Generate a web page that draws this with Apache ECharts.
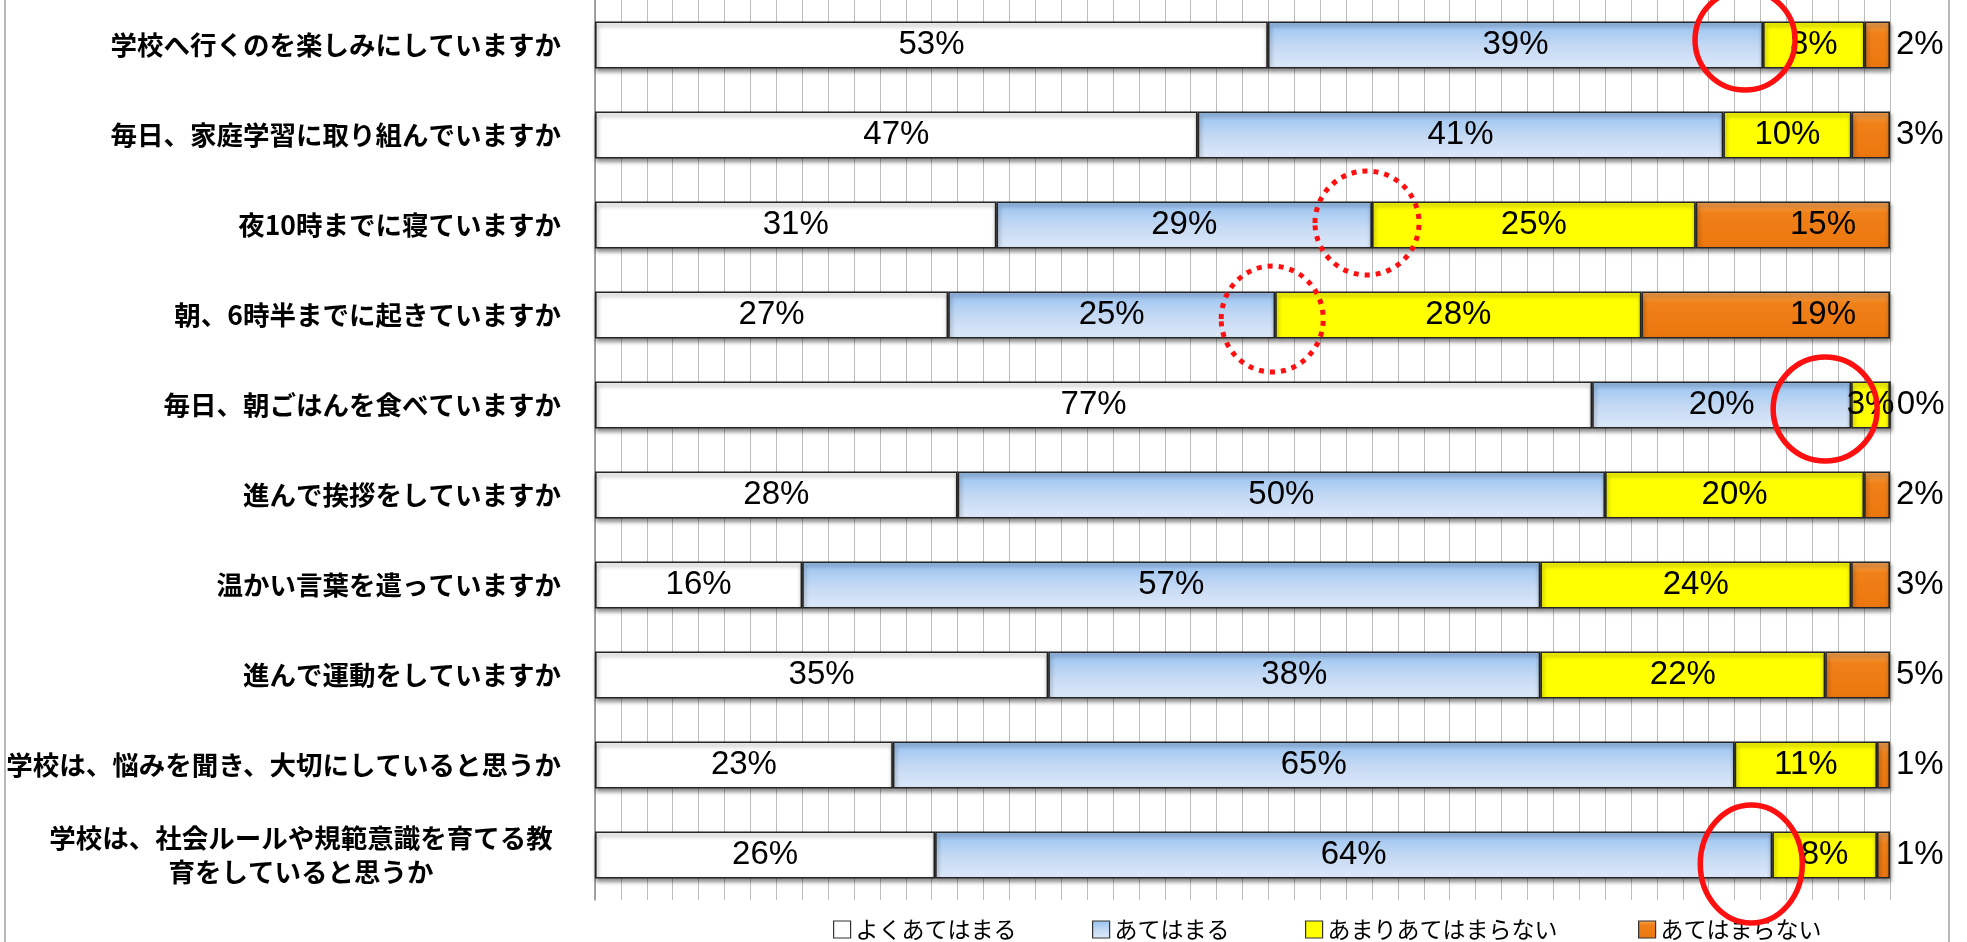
<!DOCTYPE html>
<html>
<head>
<meta charset="utf-8">
<script src="https://cdn.jsdelivr.net/npm/echarts@6/dist/echarts.min.js"></script>
<style>
html,body{margin:0;padding:0;background:#fff;}
#chart{width:1967px;height:942px;}
</style>
</head>
<body>
<div id="chart"></div>
<script>
const categories = [
  '学校へ行くのを楽しみにしていますか',
  '毎日、家庭学習に取り組んでいますか',
  '夜10時までに寝ていますか',
  '朝、6時半までに起きていますか',
  '毎日、朝ごはんを食べていますか',
  '進んで挨拶をしていますか',
  '温かい言葉を遣っていますか',
  '進んで運動をしていますか',
  '学校は、悩みを聞き、大切にしていると思うか',
  '学校は、社会ルールや規範意識を育てる教\n育をしていると思うか'
];
const seriesNames = ['よくあてはまる', 'あてはまる', 'あまりあてはまらない', 'あてはまらない'];
const veryTrue     = [53, 47, 31, 27, 77, 28, 16, 35, 23, 26];
const somewhatTrue = [39, 41, 29, 25, 20, 50, 57, 38, 65, 64];
const notReally    = [8, 10, 25, 28, 3, 20, 24, 22, 11, 8];
const notAtAll     = [2, 3, 15, 19, 0, 2, 3, 5, 1, 1];
const axisTicks    = [0, 100, 2];

const raw = [veryTrue, somewhatTrue, notReally, notAtAll];
const totals = categories.map((c, i) => raw.reduce((s, a) => s + a[i], 0));
const norm = raw.map(a => a.map((v, i) => v / totals[i] * 100));

const lin = (stops) => new echarts.graphic.LinearGradient(0, 0, 0, 1, stops.map((c) => ({offset: c[0], color: c[1]})));
const colors = [
  '#ffffff',
  lin([[0, '#94bff0'], [0.18, '#a6caf2'], [0.55, '#c6daf4'], [1, '#dde9f9']]),
  '#ffff00',
  lin([[0, '#f7a85a'], [0.25, '#f08018'], [1, '#ec760e']])
];

const baseItem = {
  borderColor: '#262626',
  borderWidth: 1.6,
  shadowColor: 'rgba(0,0,0,0.45)',
  shadowBlur: 4,
  shadowOffsetY: 3,
  shadowOffsetX: 1
};
const labelFont = {fontFamily: 'Liberation Sans', fontSize: 33, color: '#000'};

const series = seriesNames.map((name, s) => ({
  name: name,
  type: 'bar',
  stack: 'total',
  barWidth: 47,
  itemStyle: Object.assign({color: colors[s]}, baseItem),
  label: Object.assign({show: true, position: 'inside',
    formatter: p => raw[p.seriesIndex][p.dataIndex] + '%'}, labelFont),
  data: norm[s].map((v, i) => {
    const d = {value: v};
    if (s === 3) {
      if (raw[3][i] <= 5) d.label = {position: 'right', distance: 6};
      else d.label = {position: 'insideRight', distance: 34};
    }
    return d;
  })
}));

const legendLefts = [828, 1087, 1300, 1633];
const legends = seriesNames.map((n, i) => ({
  data: [n], left: legendLefts[i], top: 913, itemWidth: 17, itemHeight: 17,
  icon: 'rect',
  itemStyle: {borderColor: '#333', borderWidth: 1.2},
  textStyle: {fontSize: 23, color: '#000', fontFamily: 'Noto Sans CJK JP'}
}));

const chart = echarts.init(document.getElementById('chart'), null, {renderer: 'canvas'});
chart.setOption({
  animation: false,
  backgroundColor: '#fff',
  grid: {left: 595, right: 77, top: -13, bottom: 42, containLabel: false},
  xAxis: {
    type: 'value', min: axisTicks[0], max: axisTicks[1], interval: axisTicks[2],
    axisLabel: {show: false}, axisTick: {show: false}, axisLine: {show: false},
    splitLine: {show: true, lineStyle: {color: '#bdbdbd', width: 1}}
  },
  yAxis: {
    type: 'category', data: categories, inverse: true,
    axisTick: {show: false},
    axisLine: {show: true, lineStyle: {color: '#8c8c8c', width: 1.5}},
    axisLabel: {
      margin: 34, color: '#000', fontSize: 26.5, fontWeight: 'bold',
      fontFamily: 'Noto Sans CJK JP', lineHeight: 34,
      formatter: v => {
        const lines = v.split('\n');
        if (lines.length === 1) return v;
        return lines.map(l => '{c|' + l + '}').join('\n');
      },
      rich: {c: {width: 520, align: 'center', fontSize: 26.5, fontWeight: 'bold',
        fontFamily: 'Noto Sans CJK JP', color: '#000', lineHeight: 34}}
    }
  },
  legend: legends,
  series: series
});

// annotation circles placed relative to the blue/yellow boundary of given rows
const annotations = [
  {row: 0, dx: -18, dy: -5, rx: 50, ry: 50, dotted: false},
  {row: 2, dx: -5, dy: -2, rx: 52, ry: 52, dotted: true},
  {row: 3, dx: -3, dy: 4, rx: 51, ry: 53, dotted: true},
  {row: 4, dx: -26, dy: 4, rx: 52, ry: 52, dotted: false},
  {row: 9, dx: -21, dy: 9, rx: 51, ry: 59, dotted: false}
];
const graphics = annotations.map(a => {
  const boundary = norm[0][a.row] + norm[1][a.row];
  const pt = chart.convertToPixel({gridIndex: 0}, [boundary, a.row]);
  return {
    type: 'ellipse', z: 100,
    shape: {cx: pt[0] + a.dx, cy: pt[1] + a.dy, rx: a.rx, ry: a.ry},
    style: a.dotted
      ? {fill: null, stroke: '#ff1010', lineWidth: 5, lineDash: [5, 6]}
      : {fill: null, stroke: '#ff1010', lineWidth: 5.5}
  };
});
graphics.push({
  type: 'rect', z: 100,
  shape: {x: 5, y: -10, width: 1944, height: 970},
  style: {fill: null, stroke: '#a0a0a0', lineWidth: 1.5}
});
chart.setOption({graphic: graphics});
</script>
</body>
</html>
